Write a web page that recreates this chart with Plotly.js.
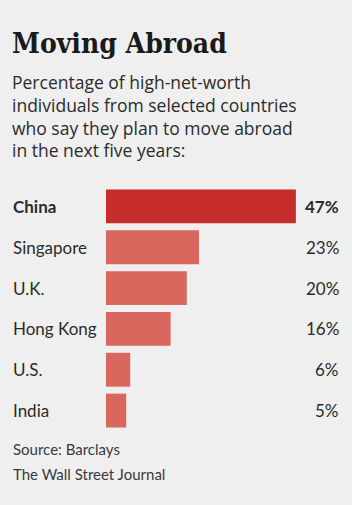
<!DOCTYPE html>
<html><head><meta charset="utf-8">
<script src="https://cdn.plot.ly/plotly-3.0.1.min.js"></script>
<style>html,body{margin:0;padding:0;background:#efefef;}#chart{width:352px;height:505px;}</style>
</head><body><div id="chart"></div>
<script>
const categories = ["China", "Singapore", "U.K.", "Hong Kong", "U.S.", "India"];
const values = [47, 23, 20, 16, 6, 5];
const valueLabels = ["47%", "23%", "20%", "16%", "6%", "5%"];
const highlighted = ["China"];

const W = 352, H = 505, plotTop = 186, plotBottom = 431;
const px = p => p / W;
const py = p => (plotBottom - p) / (plotBottom - plotTop);
const sans = "Lato, 'Liberation Sans', sans-serif";
const ink = "#2b2b2b";

const colors = categories.map(c => highlighted.includes(c) ? "#c62d2b" : "#d9675d");

const annotations = [];
annotations.push({xref:"paper", yref:"paper", x:px(10), y:py(44), xanchor:"left", yanchor:"middle",
  text:"<b>Moving Abroad</b>", showarrow:false, font:{family:"'DejaVu Serif Condensed', 'DejaVu Serif', serif", size:28, color:"#1a1a1a"}});
annotations.push({xref:"paper", yref:"paper", x:px(10), y:py(68), xanchor:"left", yanchor:"top", align:"left",
  text:"Percentage of high-net-worth<br>individuals from selected countries<br>who say they plan to move abroad<br>in the next five years:",
  showarrow:false, font:{family:"'Open Sans', sans-serif", size:17.5, color:ink}});
categories.forEach((c, i) => {
  const hl = highlighted.includes(c);
  annotations.push({xref:"paper", yref:"y", x:px(11), y:c, xanchor:"left", yanchor:"middle",
    text: hl ? "<b>"+c+"</b>" : c, showarrow:false, font:{family:sans, size:17, color:ink}});
  annotations.push({xref:"paper", yref:"y", x:px(341), y:c, xanchor:"right", yanchor:"middle",
    text: hl ? "<b>"+valueLabels[i]+"</b>" : valueLabels[i], showarrow:false, font:{family:sans, size:17, color:ink}});
});
annotations.push({xref:"paper", yref:"paper", x:px(11), y:py(449), xanchor:"left", yanchor:"middle",
  text:"Source: Barclays", showarrow:false, font:{family:sans, size:15, color:"#3a3a3a"}});
annotations.push({xref:"paper", yref:"paper", x:px(11), y:py(474), xanchor:"left", yanchor:"middle",
  text:"The Wall Street Journal", showarrow:false, font:{family:sans, size:15, color:"#3a3a3a"}});

const data = [{
  type:"bar", orientation:"h", x:values, y:categories,
  marker:{color:colors, line:{width:0}}, width:0.83, hoverinfo:"none"
}];
const layout = {
  width:W, height:H, paper_bgcolor:"#efefef", plot_bgcolor:"rgba(0,0,0,0)",
  margin:{l:0, r:0, t:plotTop, b:H-plotBottom, pad:0},
  showlegend:false,
  xaxis:{domain:[106/W, 1], range:[0, 246/4.04], showgrid:false, zeroline:false, showticklabels:false, showline:false, fixedrange:true},
  yaxis:{autorange:"reversed", showgrid:false, zeroline:false, showticklabels:false, showline:false, fixedrange:true},
  annotations: annotations
};
Plotly.newPlot("chart", data, layout, {displayModeBar:false, staticPlot:true});
</script></body></html>
